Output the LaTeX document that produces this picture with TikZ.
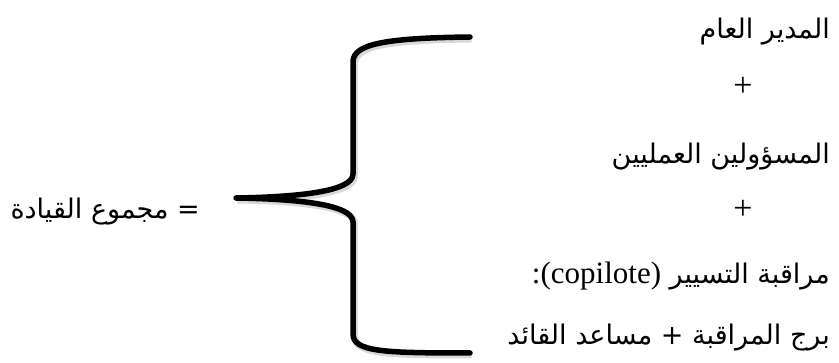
\documentclass[tikz,border=0pt]{standalone}
\usepackage{fontspec}
\setmainfont{Liberation Serif}
\newfontfamily\arabicfont[Script=Arabic]{DejaVu Sans}
\TeXXeTstate=1

\begin{document}
\begin{tikzpicture}[
    x=1pt, y=-1pt,
    item/.style={
        anchor=east, inner sep=0pt,
        font=\arabicfont\fontsize{27}{30}\selectfont
    },
    plus/.style={inner sep=0pt, font=\fontsize{34}{36}\selectfont},
    brace/.style={
        line width=5.5pt, line cap=round, line join=round,
        preaction={draw=black!15, line width=7pt,
                   transform canvas={shift={(1.5pt,-2pt)}}}
    }
]
\useasboundingbox (0,0) rectangle (839,363);

% left hand side
\node[item] (sum) at (200,212) {\beginR = مجموع القيادة\endR};

% the members, one per line
\node[item] (gm)    at (830,32)  {\beginR المدير العام\endR};
\node[plus] (p1)    at (743,87)  {+};
\node[item] (ops)   at (830,157) {\beginR المسؤولين العمليين\endR};
\node[plus] (p2)    at (743,210) {+};
\node[item] (cop)   at (830,276) {\beginR مراقبة التسيير \beginL{\rmfamily\fontsize{31}{34}\selectfont(copilote)}\endL{\rmfamily\fontsize{31}{34}\selectfont:}\endR};
\node[item] (tower) at (830,338) {\beginR برج المراقبة + مساعد القائد\endR};

% big curly brace
\coordinate (top) at (470,37);
\coordinate (tip) at (236,198);
\coordinate (bot) at (470,353);

\draw[brace] (top) .. controls (385,38) and (353,44) .. (353,62)
    -- (353,174) .. controls (353,192) and (295,197) .. (tip)
    .. controls (295,199) and (353,204) .. (353,222)
    -- (353,334) .. controls (353,352) and (385,353) .. (bot);

\end{tikzpicture}
\end{document}
